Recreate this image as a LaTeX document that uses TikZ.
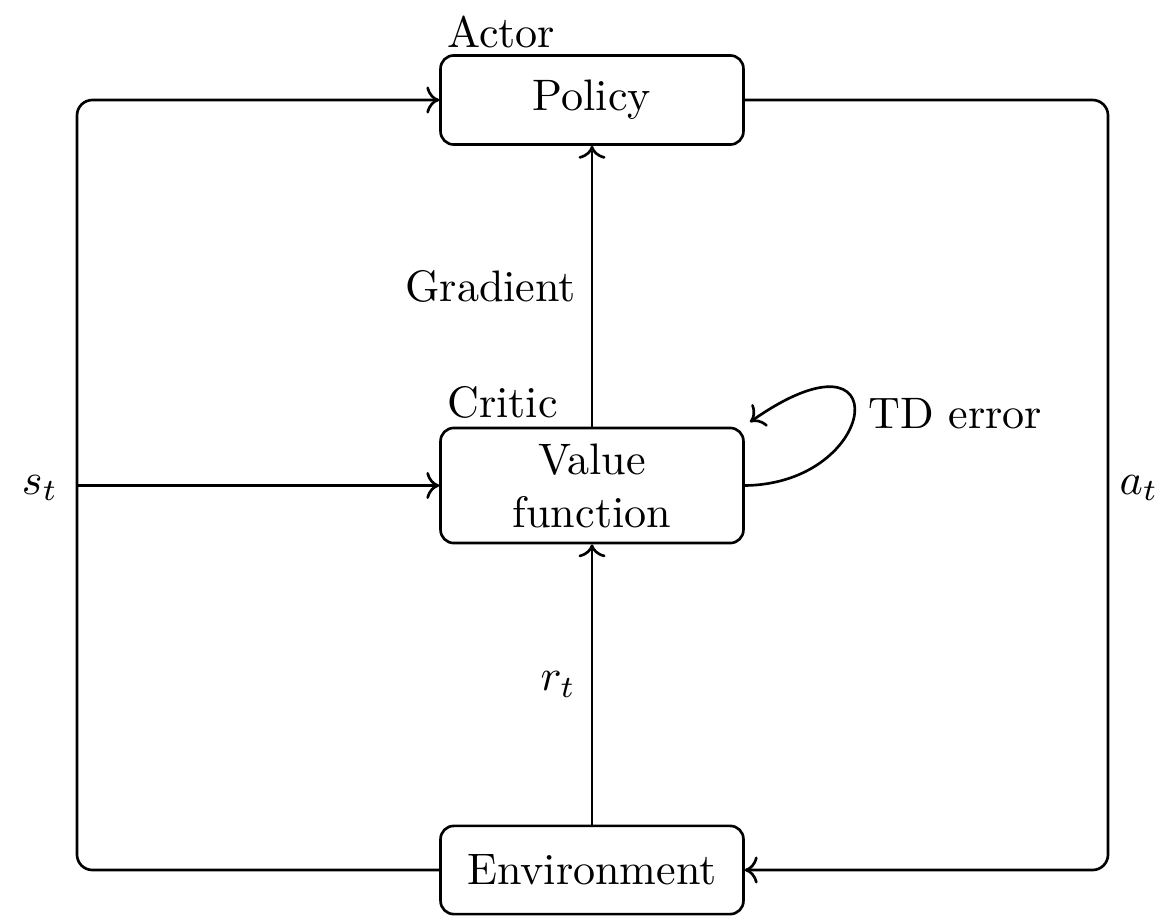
\documentclass[tikz,border=0pt]{standalone}
\usetikzlibrary{arrows.meta}
\begin{document}
\begin{tikzpicture}[x=0.2268pt, y=-0.2268pt, line width=0.6pt,
  block/.style={draw, rounded corners=3pt, minimum width=68.7pt,
    minimum height=20.2pt, align=center, inner sep=0pt},
  flow/.style={->, rounded corners=3.5pt},
  tag/.style={inner sep=0pt, anchor=base west}]
\useasboundingbox (0,0) rectangle (1168,916);

% actor, critic and environment
\node[block] (pol) at (592,100) {Policy};
\node[block, minimum height=26.1pt] (val) at (592,485.5) {Value\\function};
\node[block, minimum height=20pt] (env) at (592,870) {Environment};
\node[tag] (actor) at (446,47) {Actor};
\node[tag] (critic) at (446,417) {Critic};

% corners of the outer loop
\coordinate (lbot) at (77,870);
\coordinate (ltop) at (77,100);
\coordinate (lmid) at (77,485.5);
\coordinate (rtop) at (1108,100);
\coordinate (rbot) at (1108,870);

% state goes back to actor and critic
\draw[flow] (env.west) -- (lbot) -- (ltop) -- (pol.west);
\draw[->] (lmid) -- (val.west);
\node (st) at (40,488) {$s_t$};

% action goes to the environment
\draw[flow] (pol.east) -- (rtop) -- (rbot) -- (env.east);
\node (at) at (1139,488) {$a_t$};

% reward and gradient
\draw[->] (env.north) -- node[left] (rt) {$r_t$} (val.south);
\draw[->] (val.north) -- node[left] (grad) {Gradient} (pol.south);

% TD error loop on the critic
\coordinate (tdin) at (750,422);
\draw[->] (val.east) .. controls (880,484) and (900,317) .. (tdin);
\node[tag] (td) at (867,428) {TD error};
\end{tikzpicture}
\end{document}
